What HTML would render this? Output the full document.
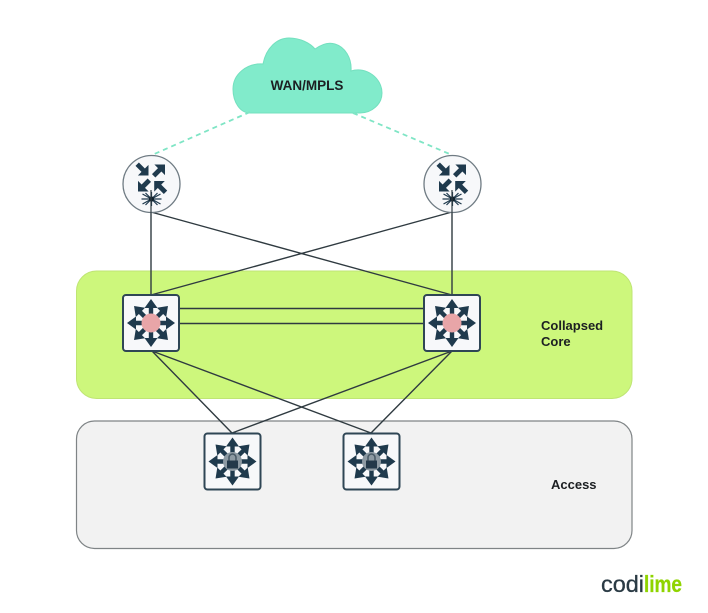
<!DOCTYPE html>
<html>
<head>
<meta charset="utf-8">
<style>
html,body{margin:0;padding:0;background:#fff;width:708px;height:613px;overflow:hidden}
svg{display:block}
text{font-family:"Liberation Sans",sans-serif;font-weight:700;fill:#1c1f22}
</style>
</head>
<body>
<svg width="708" height="613" viewBox="0 0 708 613" xmlns="http://www.w3.org/2000/svg">
<defs>
  <g id="a">
    <path d="M0,-24 L-6.5,-15 L-2.2,-15 L-2.2,-8 L2.2,-8 L2.2,-15 L6.5,-15 Z" fill="#1f3a4d"/>
  </g>
  <path id="ra" d="M0,0 L-7.5,7.5 L-2.4,7.5 L-2.4,16 L2.4,16 L2.4,7.5 L7.5,7.5 Z" fill="#1f3a4d"/>
  <g id="star">
    <use href="#a"/>
    <use href="#a" transform="rotate(45)"/>
    <use href="#a" transform="rotate(90)"/>
    <use href="#a" transform="rotate(135)"/>
    <use href="#a" transform="rotate(180)"/>
    <use href="#a" transform="rotate(225)"/>
    <use href="#a" transform="rotate(270)"/>
    <use href="#a" transform="rotate(315)"/>
  </g>
  <g id="core">
    <rect x="-28" y="-28" width="56" height="56" rx="3" fill="#f7f8fa" stroke="#2f4655" stroke-width="2"/>
    <use href="#star"/>
    <circle r="9.5" fill="#e8a5a8"/>
  </g>
  <g id="acc">
    <rect x="-28" y="-28" width="56" height="56" rx="3" fill="#f7f8fa" stroke="#2f4655" stroke-width="2"/>
    <use href="#star"/>
    <circle r="9.5" fill="#8d9aa3"/>
    <path d="M-3.5,-1 V-4 A3.5,3.5 0 0 1 3.5,-4 V-1" fill="none" stroke="#4b5c68" stroke-width="1.6"/>
    <rect x="-5.5" y="-1" width="11" height="8" fill="#23394a"/>
  </g>
  <g id="rt">
    <circle r="28.5" fill="#f7f8fa" stroke="#6f7b83" stroke-width="1.3"/>
    <use href="#ra" transform="translate(-3,-8.5) rotate(135)"/>
    <use href="#ra" transform="translate(13.5,-19.5) rotate(45)"/>
    <use href="#ra" transform="translate(-13.5,7.5) rotate(225)"/>
    <use href="#ra" transform="translate(2.7,-3) rotate(-45)"/>
    <g stroke="#1f3a4d" stroke-width="1.2">
      <line x1="-9" y1="10" x2="9" y2="20"/>
      <line x1="-9" y1="20" x2="9" y2="10"/>
      <line x1="-10" y1="15" x2="10" y2="15"/>
      <line x1="0" y1="8" x2="0" y2="22"/>
      <line x1="-6" y1="9" x2="6" y2="21"/>
      <line x1="-6" y1="21" x2="6" y2="9"/>
    </g>
    <circle cy="15" r="2.6" fill="#10212d"/>
  </g>
</defs>

<rect x="76.5" y="271" width="555.5" height="127.5" rx="20" fill="#cdf77c" stroke="#bfe574" stroke-width="1"/>
<rect x="76.5" y="421" width="555.5" height="127.5" rx="18" fill="#f2f2f2" stroke="#7f8486" stroke-width="1.2"/>

<path d="M250,113 C240,113 233,102 233,89 C233,74 247,63 263,64 C266,48 277,38 289,38 C300,38 310,43 315,49 C322,44 329,42 335,44 C345,47 352,58 351,71 C366,66 382,78 382,93 C382,104 372,113 360,113 Z" fill="#81ebcb" stroke="#74e0bf" stroke-width="1"/>
<text x="307" y="90" font-size="13.5" text-anchor="middle">WAN/MPLS</text>

<g stroke="#7fe5c5" stroke-width="1.8" stroke-dasharray="5 4" fill="none">
  <line x1="250" y1="112" x2="152" y2="155"/>
  <line x1="353" y1="113" x2="452" y2="155"/>
</g>

<g stroke="#2f3a40" stroke-width="1.4" fill="none">
  <line x1="151" y1="205" x2="151" y2="295"/>
  <line x1="452" y1="205" x2="452" y2="295"/>
  <line x1="151" y1="212" x2="452" y2="295"/>
  <line x1="452" y1="212" x2="151" y2="295"/>
  <line x1="179" y1="308.5" x2="424" y2="308.5"/>
  <line x1="179" y1="323.5" x2="424" y2="323.5"/>
  <line x1="152" y1="351" x2="232" y2="433"/>
  <line x1="152" y1="351" x2="371" y2="433"/>
  <line x1="452" y1="351" x2="232" y2="433"/>
  <line x1="452" y1="351" x2="371" y2="433"/>
</g>

<use href="#rt" x="151.5" y="184"/>
<use href="#rt" x="452.5" y="184"/>
<line x1="151" y1="190" x2="151" y2="213" stroke="#2f3a40" stroke-width="1.2"/>
<line x1="452" y1="190" x2="452" y2="213" stroke="#2f3a40" stroke-width="1.2"/>

<use href="#core" x="151" y="323"/>
<use href="#core" x="452" y="323"/>
<use href="#acc" x="232.5" y="461.5"/>
<use href="#acc" x="371.5" y="461.5"/>

<text x="541" y="330" font-size="13">Collapsed</text>
<text x="541" y="346" font-size="13">Core</text>
<text x="551" y="489" font-size="13">Access</text>

<text x="601" y="592" font-size="23" style="font-weight:400;fill:#2a3a44;stroke:#2a3a44;stroke-width:.3" textLength="43" lengthAdjust="spacingAndGlyphs">codi</text>
<text x="644" y="592" font-size="23" style="font-weight:700;fill:#8fd400;stroke:#8fd400;stroke-width:.3" textLength="38" lengthAdjust="spacingAndGlyphs">lime</text>
</svg>
</body>
</html>
